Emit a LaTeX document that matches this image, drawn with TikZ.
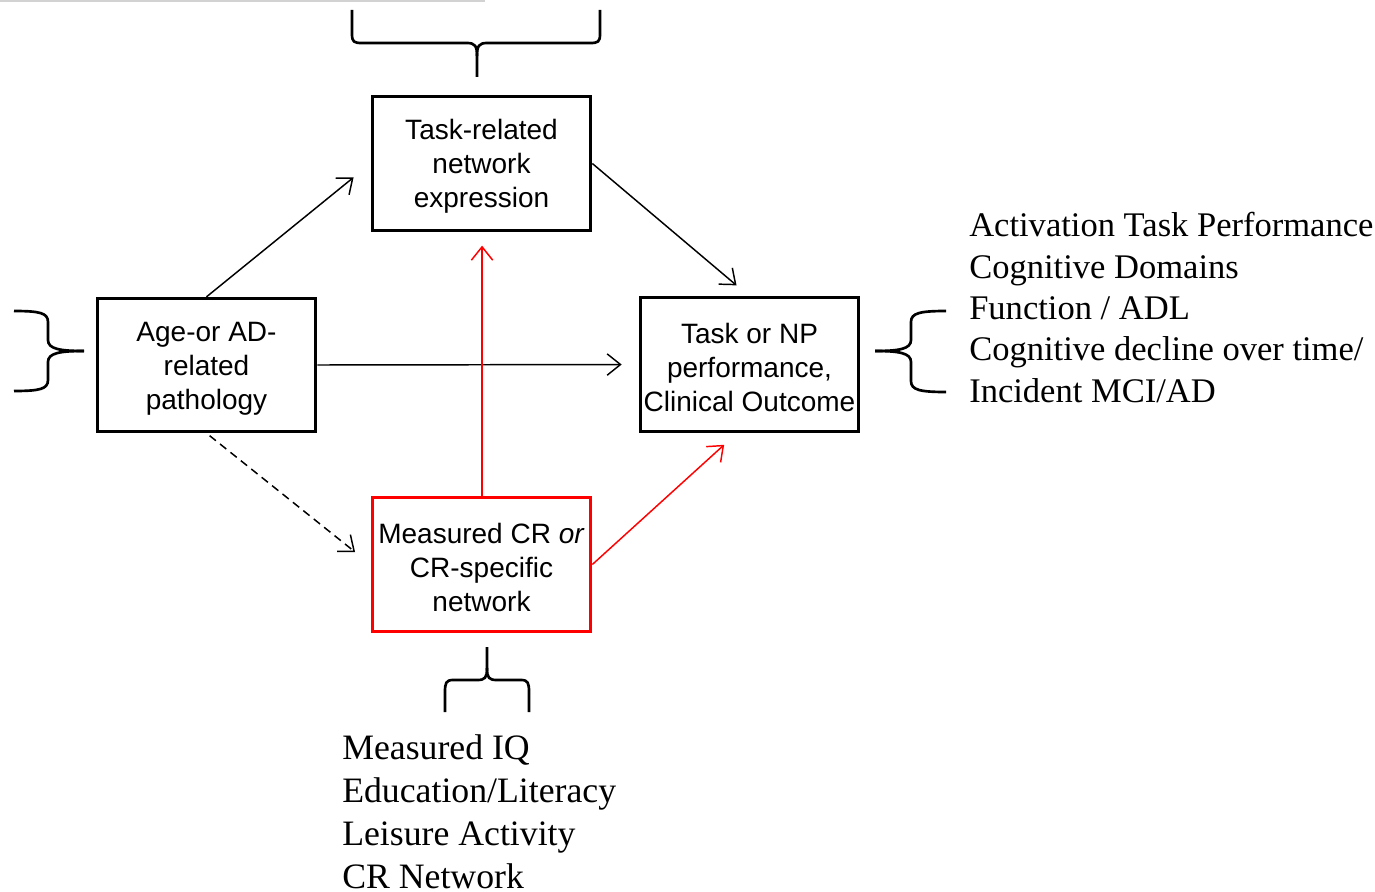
\documentclass[tikz,border=0pt]{standalone}
\usepackage{fontspec}
\setmainfont{Liberation Serif}
\setsansfont{Liberation Sans}
\usetikzlibrary{arrows.meta}
\definecolor{crred}{RGB}{255,0,0}
% extra room above the first line of a box label
\newcommand{\headroom}{\rule{0pt}{20pt}}
\begin{document}
\begin{tikzpicture}[x=0.75pt,y=-0.75pt,
  box/.style={draw, line width=2.25pt, minimum width=164pt, minimum height=100pt,
    inner sep=0pt, align=center, font=\sffamily\fontsize{21}{25.5}\selectfont},
  link/.style={line width=1.1pt, -{Straight Barb[length=10pt,width=16pt,line width=1.1pt]}},
  redlink/.style={link, color=crred},
  brace/.style={line width=2pt, line join=round},
  listtext/.style={inner sep=0pt, align=left, anchor=north west}]
\useasboundingbox (0,0) rectangle (1375,892);
% thin rule along the top edge
\draw[gray!35, line width=1.5pt] (0,1) -- (485,1);

% boxes
\node[box] (task) at (481.5,163.5) {\headroom Task-related\\network\\expression};
\node[box] (age) at (206.5,365) {\headroom Age-or AD-\\related\\pathology};
\node[box] (np) at (749.5,364.5) {\headroom Task or NP\\performance,\\Clinical Outcome};
\node[box, draw=crred] (cr) at (481.5,564.5) {\headroom Measured CR \textit{or}\\CR-specific\\network};

% connectors
\draw[link, shorten >=22pt*0.75] (age.north) -- (task.west);
\draw[link, shorten >=17pt*0.75] (task.east) -- (np.north);
\draw[link, shorten >=17pt*0.75] (age.east) -- (np.west);
\draw[link, dashed, dash pattern=on 6pt off 4pt, shorten <=3pt, shorten >=20pt*0.75] (age.south) -- (cr.west);
\draw[redlink, shorten >=14pt*0.75] ([xshift=0.4pt]cr.north) -- ([xshift=0.4pt]task.south);
\draw[redlink, shorten >=18pt*0.75] (cr.east) -- (np.-100);

% top brace
\draw[brace] (352,10) -- (352,34) .. controls (352,42) and (354,43) .. (362,43) -- (467,43)
  .. controls (475,43) and (477,46) .. (477,56) -- (477,77);
\draw[brace] (600,10) -- (600,34) .. controls (600,42) and (598,43) .. (590,43) -- (487,43)
  .. controls (479,43) and (477,46) .. (477,56);

% left brace
\draw[brace] (14,311) .. controls (40,311) and (48,313) .. (48,322) -- (48,340)
  .. controls (48,349) and (60,351) .. (84,351);
\draw[brace] (14,391) .. controls (40,391) and (48,389) .. (48,380) -- (48,362)
  .. controls (48,353) and (60,351) .. (84,351);

% right brace
\draw[brace] (946,311) .. controls (920,311) and (911,313) .. (911,322) -- (911,340)
  .. controls (911,349) and (899,351) .. (875,351);
\draw[brace] (946,392) .. controls (920,392) and (911,390) .. (911,381) -- (911,362)
  .. controls (911,353) and (899,351) .. (875,351);

% bottom brace
\draw[brace] (487,647) -- (487,668) .. controls (487,678) and (485,680) .. (477,680) -- (453,680)
  .. controls (446,680) and (445,683) .. (445,692) -- (445,712);
\draw[brace] (487,668) .. controls (487,678) and (489,680) .. (497,680) -- (521,680)
  .. controls (528,680) and (529,683) .. (529,692) -- (529,712);

% outcome measures
\node[listtext, font=\fontsize{25.9}{31.1}\selectfont] (outcomes) at (969,212)
  {Activation Task Performance\\Cognitive Domains\\Function / ADL\\Cognitive decline over time/\\Incident MCI/AD};

% reserve proxies
\node[listtext, font=\fontsize{26.8}{32.3}\selectfont] (proxies) at (342,734)
  {Measured IQ\\Education/Literacy\\Leisure Activity\\CR Network};
\end{tikzpicture}
\end{document}
